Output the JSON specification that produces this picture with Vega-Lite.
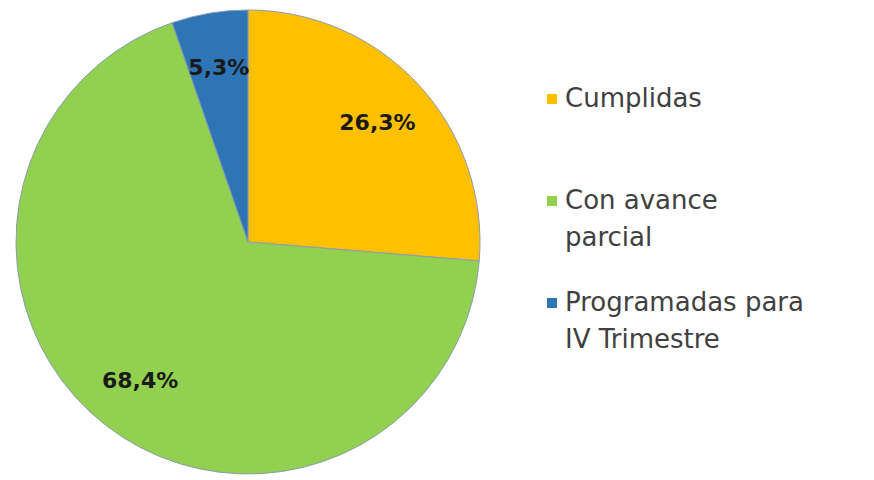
{
  "$schema": "https://vega.github.io/schema/vega-lite/v6.json",
  "width": 496,
  "height": 484,
  "padding": 0,
  "autosize": {"type": "pad"},
  "background": "white",
  "config": {
    "view": {"stroke": null},
    "style": {"guide-label": {"lineHeight": 37}}
  },
  "data": {
    "values": [
      {"categoria": "Cumplidas", "valor": 26.3, "etiqueta": "26,3%", "orden": 1},
      {"categoria": "Con avance parcial", "valor": 68.4, "etiqueta": "68,4%", "orden": 2},
      {"categoria": "Programadas para IV Trimestre", "valor": 5.3, "etiqueta": "5,3%", "orden": 3}
    ]
  },
  "encoding": {
    "theta": {"field": "valor", "type": "quantitative", "stack": true},
    "order": {"field": "orden", "type": "quantitative"}
  },
  "layer": [
    {
      "mark": {"type": "arc", "outerRadius": 232, "stroke": "#8a9bb5", "strokeWidth": 1},
      "encoding": {
        "color": {
          "field": "categoria",
          "type": "nominal",
          "sort": ["Cumplidas", "Con avance parcial", "Programadas para IV Trimestre"],
          "scale": {
            "domain": ["Cumplidas", "Con avance parcial", "Programadas para IV Trimestre"],
            "range": ["#FFC000", "#92D050", "#2E75B6"]
          },
          "legend": {
            "title": null,
            "orient": "none",
            "legendX": 539,
            "legendY": 86,
            "symbolType": "square",
            "symbolSize": 100,
            "symbolStrokeWidth": 0,
            "labelFont": "DejaVu Sans",
            "labelFontSize": 26,
            "labelColor": "#404040",
            "labelOffset": 0,
            "labelLimit": 400,
            "rowPadding": 39,
            "gridAlign": "all",
            "labelBaseline": "middle",
            "labelExpr": "datum.label == 'Con avance parcial' ? ['Con avance', 'parcial'] : datum.label == 'Programadas para IV Trimestre' ? ['Programadas para', 'IV Trimestre'] : datum.label",
            "encode": {"labels": {"update": {"lineHeight": {"value": 37}}}}
          }
        }
      }
    },
    {
      "mark": {"type": "text", "radius": 176, "font": "DejaVu Sans", "fontWeight": "bold", "fontSize": 22, "color": "#1a1a1a"},
      "encoding": {
        "text": {"field": "etiqueta", "type": "nominal"}
      }
    }
  ]
}
